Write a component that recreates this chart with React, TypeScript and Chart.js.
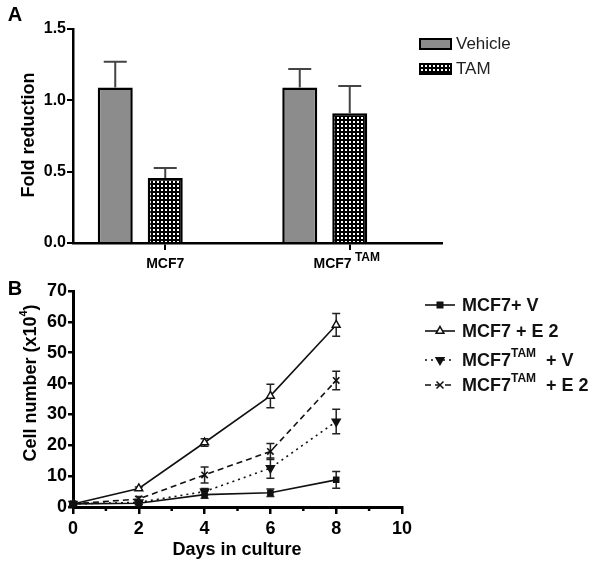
import React, { useEffect, useRef } from 'react';
import { Chart, registerables } from 'chart.js';
Chart.register(...registerables);

const FONT = '"Liberation Sans", Arial, Helvetica, sans-serif';

// ---------- Panel A data ----------
const groupBase = ['MCF7', 'MCF7'];
const groupSup = ['', 'TAM'];
const seriesA = ['Vehicle', 'TAM'];
const vehicleValues = [1.09, 1.09];
const vehicleErrors = [0.18, 0.13];
const tamValues = [0.455, 0.91];
const tamErrors = [0.07, 0.19];
const aTicks = [0, 0.5, 1.0, 1.5];

// ---------- Panel B data ----------
const days = [0, 2, 4, 6, 8];
const minorDays = [1, 3, 5, 7, 9];
const mcf7V = [1, 1.2, 4, 4.6, 8.8];
const mcf7VErr = [0.3, 0.5, 1.2, 1.2, 2.7];
const mcf7E2 = [1, 6, 20.9, 36, 59];
const mcf7E2Err = [0.3, 0.5, 1.2, 3.8, 3.7];
const tamV = [1, 1.5, 5, 12.6, 27.7];
const tamVErr = [0.3, 0.5, 1, 3.3, 4];
const tamE2 = [1, 2.6, 10.4, 18, 41];
const tamE2Err = [0.3, 0.8, 2.6, 2.6, 3];
const legendBase = ['MCF7+ V', 'MCF7 + E 2', 'MCF7', 'MCF7'];
const legendSup = ['', '', 'TAM', 'TAM'];
const legendSuffix = ['', '', '  + V', '  + E 2'];

type Part = { text: string; font: string; dy?: number };

function partsWidth(ctx: CanvasRenderingContext2D, parts: Part[]) {
  let w = 0;
  for (const p of parts) {
    ctx.font = p.font;
    w += ctx.measureText(p.text).width;
  }
  return w;
}
function drawParts(ctx: CanvasRenderingContext2D, parts: Part[], x: number, y: number) {
  let cx = x;
  ctx.textAlign = 'left';
  ctx.textBaseline = 'middle';
  for (const p of parts) {
    ctx.font = p.font;
    ctx.fillText(p.text, cx, y + (p.dy || 0));
    cx += ctx.measureText(p.text).width;
  }
}

function drawMarker(ctx: CanvasRenderingContext2D, style: number, x: number, y: number) {
  ctx.save();
  ctx.setLineDash([]);
  ctx.strokeStyle = '#111';
  ctx.lineWidth = 1.5;
  if (style === 0) {
    ctx.fillStyle = '#111';
    ctx.fillRect(x - 3.5, y - 3.5, 7, 7);
  } else if (style === 1 || style === 2) {
    const r = 4.5;
    const s = style === 1 ? 1 : -1;
    ctx.beginPath();
    ctx.moveTo(x, y - s * r);
    ctx.lineTo(x - r * 0.87, y + s * r * 0.5);
    ctx.lineTo(x + r * 0.87, y + s * r * 0.5);
    ctx.closePath();
    ctx.fillStyle = style === 1 ? '#fff' : '#111';
    ctx.fill();
    ctx.stroke();
  } else {
    const r = 3.5;
    ctx.beginPath();
    ctx.moveTo(x - r, y - r);
    ctx.lineTo(x + r, y + r);
    ctx.moveTo(x + r, y - r);
    ctx.lineTo(x - r, y + r);
    ctx.stroke();
  }
  ctx.restore();
}

export default function App() {
  const refA = useRef<HTMLCanvasElement>(null);
  const refB = useRef<HTMLCanvasElement>(null);

  useEffect(() => {
    const cvA = refA.current!;
    const cvB = refB.current!;
    const tile = document.createElement('canvas');
    tile.width = 4;
    tile.height = 4;
    const tg = tile.getContext('2d')!;
    tg.fillStyle = '#000';
    tg.fillRect(0, 0, 4, 4);
    tg.fillStyle = '#fff';
    tg.fillRect(1, 1, 2, 2);
    const pattern = cvA.getContext('2d')!.createPattern(tile, 'repeat')!;
    const grayFill = '#8c8c8c';

    const errorsA = [vehicleErrors, tamErrors];

    const pluginA = {
      id: 'panelA',
      afterDatasetsDraw(chart: any) {
        const ctx = chart.ctx as CanvasRenderingContext2D;
        const ys = chart.scales.y;
        ctx.save();
        ctx.strokeStyle = '#444';
        ctx.lineWidth = 2;
        errorsA.forEach((errs, di) => {
          const meta = chart.getDatasetMeta(di);
          const vals = chart.data.datasets[di].data as number[];
          meta.data.forEach((el: any, j: number) => {
            const top = ys.getPixelForValue(vals[j] + errs[j]);
            ctx.beginPath();
            ctx.moveTo(el.x, el.y);
            ctx.lineTo(el.x, top);
            ctx.moveTo(el.x - 11.5, top);
            ctx.lineTo(el.x + 11.5, top);
            ctx.stroke();
          });
        });
        ctx.restore();
      },
      afterDraw(chart: any) {
        const ctx = chart.ctx as CanvasRenderingContext2D;
        const xs = chart.scales.x;
        ctx.save();
        ctx.fillStyle = '#000';
        // panel letter
        ctx.font = `bold 20px ${FONT}`;
        ctx.textAlign = 'center';
        ctx.textBaseline = 'middle';
        ctx.fillText('A', 15, 15);
        // y title
        ctx.save();
        ctx.translate(29, 135);
        ctx.rotate(-Math.PI / 2);
        ctx.font = `bold 18px ${FONT}`;
        ctx.textAlign = 'center';
        ctx.fillText('Fold reduction', 0, 0);
        ctx.restore();
        // category labels
        groupBase.forEach((b, i) => {
          const parts: Part[] = [{ text: b, font: `bold 14px ${FONT}` }];
          if (groupSup[i]) parts.push({ text: ' ' + groupSup[i], font: `bold 12px ${FONT}`, dy: -6 });
          const w = partsWidth(ctx, parts);
          const x = xs.getPixelForValue(i);
          drawParts(ctx, parts, x - w / 2 - (groupSup[i] ? 3 : 0), 264);
        });
        // legend
        const rows = [44, 69];
        rows.forEach((y, i) => {
          ctx.fillStyle = i === 0 ? grayFill : (pattern as any);
          ctx.fillRect(420, y - 5, 31, 10);
          ctx.strokeStyle = '#000';
          ctx.lineWidth = 2;
          ctx.strokeRect(420, y - 5, 31, 10);
          ctx.fillStyle = '#222';
          ctx.font = `17px ${FONT}`;
          ctx.textAlign = 'left';
          ctx.textBaseline = 'middle';
          ctx.fillText(seriesA[i], 456, y);
        });
        ctx.restore();
      },
    };

    const chartA = new Chart(cvA, {
      type: 'bar',
      data: {
        labels: groupBase.map((b, i) => b + groupSup[i]),
        datasets: [
          { label: seriesA[0], data: vehicleValues, backgroundColor: grayFill, borderColor: '#000', borderWidth: 2.5 },
          { label: seriesA[1], data: tamValues, backgroundColor: pattern as any, borderColor: '#000', borderWidth: 2.5 },
          { label: '', data: [null, null] as any, backgroundColor: 'rgba(0,0,0,0)' },
        ],
      },
      options: {
        responsive: false,
        animation: false,
        layout: { padding: { top: 29, right: 158, left: 0, bottom: 0 } },
        plugins: { legend: { display: false }, tooltip: { enabled: false } },
        datasets: { bar: { barPercentage: 0.7, categoryPercentage: 0.813 } },
        scales: {
          x: {
            type: 'category',
            offset: true,
            grid: { display: true, offset: false, drawOnChartArea: false, drawTicks: true, tickLength: 7, color: '#000', lineWidth: 2 },
            border: { display: true, color: '#000', width: 2.5 },
            ticks: { display: false },
            afterFit: (s: any) => { s.height = 27; },
          },
          y: {
            min: 0,
            max: 1.5,
            afterBuildTicks: (s: any) => { s.ticks = aTicks.map((v) => ({ value: v })); },
            ticks: {
              callback: (v: any) => Number(v).toFixed(1),
              font: { family: FONT, size: 16, weight: 'bold' },
              color: '#000',
              padding: 1,
            },
            grid: { drawOnChartArea: false, tickLength: 6, color: '#000', lineWidth: 2 },
            border: { display: true, color: '#000', width: 2.5 },
            afterFit: (s: any) => { s.width = 73; },
          },
        },
      } as any,
      plugins: [pluginA],
    });

    // ---------- Panel B ----------
    const seriesB = [
      { vals: mcf7V, errs: mcf7VErr },
      { vals: mcf7E2, errs: mcf7E2Err },
      { vals: tamV, errs: tamVErr },
      { vals: tamE2, errs: tamE2Err },
    ];
    const dashes = [[], [], [2, 4], [6, 4]];

    const pluginB = {
      id: 'panelB',
      beforeDatasetsDraw(chart: any) {
        const ctx = chart.ctx as CanvasRenderingContext2D;
        const ys = chart.scales.y;
        ctx.save();
        ctx.strokeStyle = '#222';
        ctx.lineWidth = 1.5;
        seriesB.forEach((s, di) => {
          const meta = chart.getDatasetMeta(di);
          meta.data.forEach((el: any, j: number) => {
            const t = ys.getPixelForValue(s.vals[j] + s.errs[j]);
            const b = ys.getPixelForValue(s.vals[j] - s.errs[j]);
            ctx.beginPath();
            ctx.moveTo(el.x, t);
            ctx.lineTo(el.x, b);
            ctx.moveTo(el.x - 4, t);
            ctx.lineTo(el.x + 4, t);
            ctx.moveTo(el.x - 4, b);
            ctx.lineTo(el.x + 4, b);
            ctx.stroke();
          });
        });
        ctx.restore();
      },
      afterDraw(chart: any) {
        const ctx = chart.ctx as CanvasRenderingContext2D;
        const xs = chart.scales.x;
        const area = chart.chartArea;
        ctx.save();
        // minor ticks
        ctx.strokeStyle = '#000';
        ctx.lineWidth = 2.5;
        minorDays.forEach((d) => {
          const x = xs.getPixelForValue(d);
          ctx.beginPath();
          ctx.moveTo(x, area.bottom);
          ctx.lineTo(x, area.bottom + 4);
          ctx.stroke();
        });
        ctx.fillStyle = '#000';
        ctx.font = `bold 20px ${FONT}`;
        ctx.textAlign = 'center';
        ctx.textBaseline = 'middle';
        ctx.fillText('B', 15, 19);
        // x title
        ctx.font = `bold 18px ${FONT}`;
        ctx.fillText('Days in culture', 237, 280);
        // y title
        ctx.save();
        ctx.translate(31, 113);
        ctx.rotate(-Math.PI / 2);
        const yParts: Part[] = [
          { text: 'Cell number (x10', font: `bold 18px ${FONT}` },
          { text: '4', font: `bold 11px ${FONT}`, dy: -7 },
          { text: ')', font: `bold 18px ${FONT}` },
        ];
        const w = partsWidth(ctx, yParts);
        drawParts(ctx, yParts, -w / 2, 0);
        ctx.restore();
        // legend
        const rows = [35, 61, 90, 115];
        rows.forEach((y, i) => {
          ctx.save();
          ctx.strokeStyle = '#111';
          ctx.lineWidth = 1.6;
          ctx.setLineDash(dashes[i]);
          ctx.beginPath();
          ctx.moveTo(425, y);
          ctx.lineTo(455, y);
          ctx.stroke();
          ctx.restore();
          drawMarker(ctx, i, 440, y);
          const parts: Part[] = [{ text: legendBase[i], font: `bold 18px ${FONT}` }];
          if (legendSup[i]) {
            parts.push({ text: legendSup[i], font: `bold 12px ${FONT}`, dy: -7 });
            parts.push({ text: legendSuffix[i], font: `bold 18px ${FONT}` });
          }
          ctx.fillStyle = '#111';
          drawParts(ctx, parts, 462, y + 1);
        });
        ctx.restore();
      },
    };

    const mk = (vals: number[]) => days.map((d, i) => ({ x: d, y: vals[i] }));
    const base = { borderColor: '#111', borderWidth: 1.6, clip: false as any, tension: 0, pointBorderColor: '#111' };

    const chartB = new Chart(cvB, {
      type: 'line',
      data: {
        datasets: [
          { ...base, label: legendBase[0], data: mk(mcf7V), pointStyle: 'rect', pointRadius: 3.5, pointBackgroundColor: '#111' },
          { ...base, label: legendBase[1], data: mk(mcf7E2), pointStyle: 'triangle', pointRadius: 4.5, pointBackgroundColor: '#fff', pointBorderWidth: 1.5 },
          { ...base, label: legendBase[2] + legendSup[2] + legendSuffix[2], data: mk(tamV), borderDash: dashes[2], pointStyle: 'triangle', pointRotation: 180, pointRadius: 4.5, pointBackgroundColor: '#111' },
          { ...base, label: legendBase[3] + legendSup[3] + legendSuffix[3], data: mk(tamE2), borderDash: dashes[3], pointStyle: 'crossRot', pointRadius: 4.5, pointBorderWidth: 1.6 },
        ] as any,
      },
      options: {
        responsive: false,
        animation: false,
        layout: { padding: { top: 21, right: 198, left: 0, bottom: 0 } },
        plugins: { legend: { display: false }, tooltip: { enabled: false } },
        scales: {
          x: {
            type: 'linear',
            min: 0,
            max: 10,
            ticks: { stepSize: 2, font: { family: FONT, size: 18, weight: 'bold' }, color: '#000', padding: 4 },
            grid: { drawOnChartArea: false, tickLength: 7, color: '#000', lineWidth: 2.5 },
            border: { display: true, color: '#000', width: 3 },
            afterFit: (s: any) => { s.height = 59; },
          },
          y: {
            min: 0,
            max: 70,
            ticks: { stepSize: 10, font: { family: FONT, size: 18, weight: 'bold' }, color: '#000', padding: 1 },
            grid: { drawOnChartArea: false, tickLength: 5, color: '#000', lineWidth: 2.5 },
            border: { display: true, color: '#000', width: 3 },
            afterFit: (s: any) => { s.width = 73; },
          },
        },
      } as any,
      plugins: [pluginB],
    });

    return () => {
      chartA.destroy();
      chartB.destroy();
    };
  }, []);

  return (
    <div style={{ position: 'absolute', left: 0, top: 0, width: 600, height: 566, background: '#fff' }}>
      <canvas ref={refA} width={600} height={270} style={{ position: 'absolute', left: 0, top: 0, width: 600, height: 270 }} />
      <canvas ref={refB} width={600} height={296} style={{ position: 'absolute', left: 0, top: 270, width: 600, height: 296 }} />
    </div>
  );
}
